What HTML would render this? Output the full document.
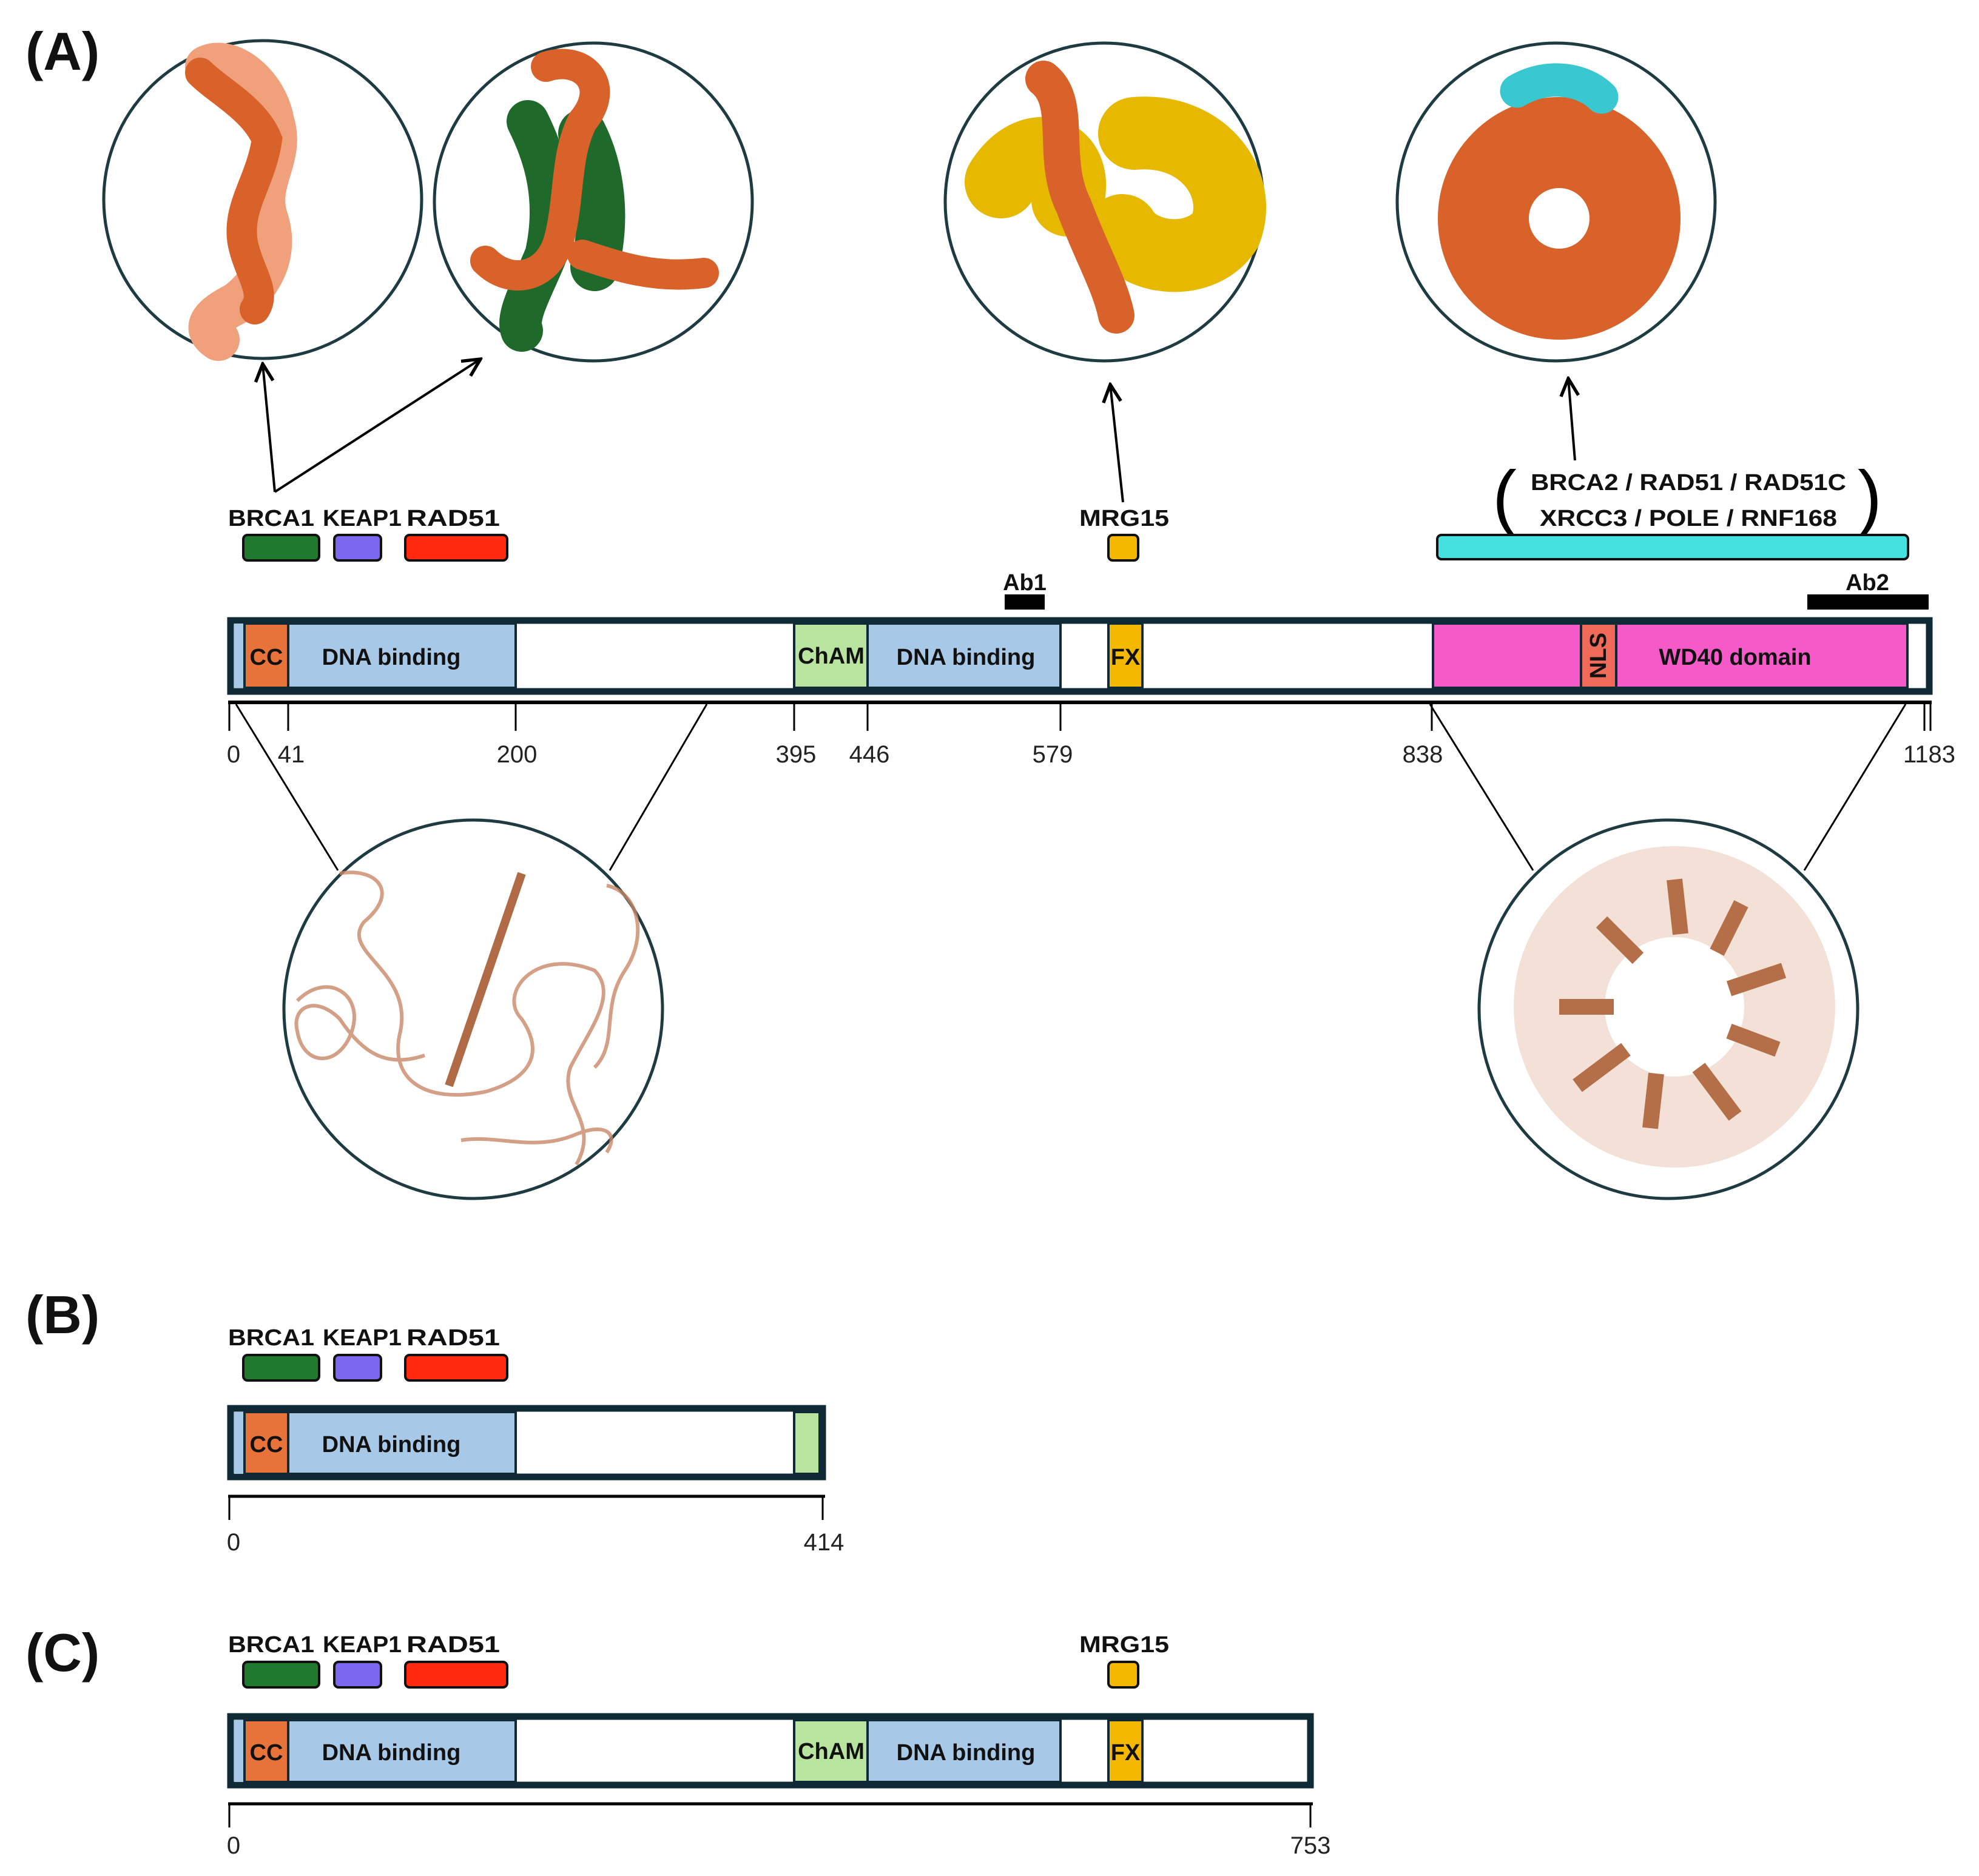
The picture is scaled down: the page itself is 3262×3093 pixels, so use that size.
<!DOCTYPE html>
<html><head><meta charset="utf-8"><style>
html,body{margin:0;padding:0;background:#fff}
svg{display:block}
text{font-family:"Liberation Sans",sans-serif}
.b{font-weight:bold;font-size:38px;fill:#111}
.n{font-size:40px;fill:#222}
.h{font-weight:bold;font-size:88px;fill:#111}
</style></head><body>
<svg width="3262" height="3093" viewBox="0 0 3262 3093" xmlns="http://www.w3.org/2000/svg">
<defs>
<marker id="ar" viewBox="0 0 20 20" refX="18" refY="10" markerWidth="9" markerHeight="9" orient="auto" markerUnits="strokeWidth"><path d="M2,2 L18,10 L2,18" fill="none" stroke="#000" stroke-width="3"/></marker>
</defs>
<text class="h" x="42" y="115">(A)</text>
<text class="h" x="42" y="2198">(B)</text>
<text class="h" x="42" y="2755">(C)</text>

<g stroke="#1d3b40" stroke-width="5" fill="#fff">
<circle cx="433" cy="329" r="262"/><circle cx="978" cy="333" r="262"/>
<circle cx="1820" cy="333" r="262"/><circle cx="2565" cy="333" r="262"/>
<circle cx="780" cy="1664" r="312"/><circle cx="2750" cy="1664" r="312"/>
</g>
<!-- circle1 -->
<path d="M340,110 C380,90 440,140 450,200 C470,260 420,300 440,360 C460,420 430,470 390,500 C350,520 330,540 360,560" stroke="#f0a07a" stroke-width="70" fill="none" stroke-linecap="round"/>
<path d="M330,120 C360,150 420,180 440,230 C430,300 390,340 400,400 C410,450 440,480 420,510" stroke="#d8622a" stroke-width="50" fill="none" stroke-linecap="round"/>
<!-- circle2 -->
<path d="M870,200 C900,260 920,330 900,420 C880,470 850,520 860,545" stroke="#1f6a2a" stroke-width="70" fill="none" stroke-linecap="round"/>
<path d="M960,220 C990,280 1000,360 980,440" stroke="#1f6a2a" stroke-width="80" fill="none" stroke-linecap="round"/>
<path d="M900,110 C960,90 1010,140 960,200 C930,260 940,330 920,400 C900,460 840,470 800,430 M960,420 C1020,440 1080,460 1160,450" stroke="#d8622a" stroke-width="50" fill="none" stroke-linecap="round"/>
<!-- circle3 -->
<path d="M1650,300 C1700,220 1780,250 1760,330 M1870,220 C1980,210 2050,300 2020,380 C1980,440 1880,430 1850,380" stroke="#e6b800" stroke-width="120" fill="none" stroke-linecap="round"/>
<path d="M1720,130 C1770,170 1730,260 1770,340 C1800,420 1830,470 1840,520" stroke="#d8622a" stroke-width="60" fill="none" stroke-linecap="round"/>
<!-- circle4 -->
<circle cx="2570" cy="360" r="125" fill="none" stroke="#d8622a" stroke-width="150"/>
<circle cx="2570" cy="360" r="40" fill="#fff"/>
<path d="M2500,150 C2550,120 2610,130 2640,160" stroke="#3ac8d0" stroke-width="55" fill="none" stroke-linecap="round"/>
<!-- bottom left -->
<g fill="none" stroke="#c98868" stroke-width="6" opacity="0.8">
<path d="M560,1440 C620,1430 660,1470 600,1520 C560,1570 680,1600 660,1700 C640,1780 700,1820 800,1800 C870,1780 900,1740 860,1680 C820,1640 880,1560 980,1600 C1020,1640 970,1700 940,1760 C920,1820 990,1850 950,1920"/>
<path d="M490,1650 C540,1600 600,1640 580,1700 C560,1760 500,1760 490,1700 C480,1660 520,1640 560,1680 C600,1740 640,1760 700,1740"/>
<path d="M760,1880 C820,1870 880,1900 950,1870 C1000,1850 1020,1870 1000,1900"/>
<path d="M1000,1460 C1050,1470 1070,1540 1030,1600 C990,1660 1020,1720 980,1760"/>
</g>
<line x1="740" y1="1790" x2="860" y2="1440" stroke="#b06a45" stroke-width="14"/>
<!-- bottom right -->
<g fill="none" stroke="#a8562a" stroke-width="26" opacity="0.85">
<circle cx="2760" cy="1660" r="190" stroke="#e8c4b0" stroke-width="150" opacity="0.6"/>
<path d="M2640,1520 L2700,1580 M2760,1450 L2770,1540 M2870,1490 L2830,1570 M2940,1600 L2850,1630 M2930,1730 L2850,1700 M2860,1840 L2800,1760 M2720,1860 L2730,1770 M2600,1790 L2680,1730 M2570,1660 L2660,1660"/>
</g>

<g stroke="#000" stroke-width="4" fill="none" marker-end="url(#ar)">
<line x1="453" y1="811" x2="433" y2="600"/>
<line x1="453" y1="811" x2="792" y2="592"/>
<line x1="1851" y1="828" x2="1830" y2="634"/>
<line x1="2596" y1="759" x2="2585" y2="624"/>
</g>

<text class="b" x="376" y="867" textLength="142" lengthAdjust="spacingAndGlyphs">BRCA1</text>
<text class="b" x="532" y="867" textLength="130" lengthAdjust="spacingAndGlyphs">KEAP1</text>
<text class="b" x="670" y="867" textLength="154" lengthAdjust="spacingAndGlyphs">RAD51</text>
<text class="b" x="1853" y="867" text-anchor="middle" textLength="148" lengthAdjust="spacingAndGlyphs">MRG15</text>
<text class="b" x="2783" y="808" text-anchor="middle" textLength="520" lengthAdjust="spacingAndGlyphs">BRCA2 / RAD51 / RAD51C</text>
<text class="b" x="2783" y="867" text-anchor="middle" textLength="490" lengthAdjust="spacingAndGlyphs">XRCC3 / POLE / RNF168</text>
<text class="b" x="1689" y="973" text-anchor="middle">Ab1</text>
<text class="b" x="3078" y="973" text-anchor="middle">Ab2</text>
<text x="2480" y="860" font-size="120" font-family="Liberation Sans" text-anchor="middle">(</text>
<text x="3082" y="860" font-size="120" font-family="Liberation Sans" text-anchor="middle">)</text>

<g stroke="#111" stroke-width="4">
<rect x="401" y="882" width="125" height="42" rx="7" fill="#1f7a2e"/>
<rect x="551" y="882" width="77" height="42" rx="7" fill="#7b68ee"/>
<rect x="668" y="882" width="168" height="42" rx="7" fill="#ff2a10"/>
<rect x="1827" y="882" width="49" height="42" rx="7" fill="#f5b800"/>
<rect x="2369" y="882" width="776" height="40" rx="7" fill="#45e0e0"/>
</g>
<rect x="1656" y="980" width="66" height="25" fill="#000"/>
<rect x="2979" y="980" width="200" height="25" fill="#000"/>

<rect x="380" y="1023" width="2800" height="117" fill="#fff" stroke="#0f2a35" stroke-width="11"/>
<g stroke="#0f2a35" stroke-width="4">
<rect x="386" y="1028" width="17" height="106" fill="#a8c8e8" stroke="none"/>
<rect x="403" y="1028" width="72" height="106" fill="#e8733a"/>
<rect x="475" y="1028" width="375" height="106" fill="#a8c8e8"/>
<rect x="1309" y="1028" width="121" height="106" fill="#b8e4a0"/>
<rect x="1430" y="1028" width="318" height="106" fill="#a8c8e8"/>
<rect x="1827" y="1028" width="56" height="106" fill="#f5b800"/>
<rect x="2362" y="1028" width="244" height="106" fill="#f55ac8"/>
<rect x="2606" y="1028" width="58" height="106" fill="#f06a5a"/>
<rect x="2664" y="1028" width="480" height="106" fill="#f55ac8"/>
</g>
<text class="b" x="439" y="1096" text-anchor="middle">CC</text>
<text class="b" x="645" y="1096" text-anchor="middle">DNA binding</text>
<text class="b" x="1370" y="1094" text-anchor="middle" font-size="36">ChAM</text>
<text class="b" x="1592" y="1096" text-anchor="middle">DNA binding</text>
<text class="b" x="1855" y="1096" text-anchor="middle" font-size="36">FX</text>
<text class="b" x="2860" y="1096" text-anchor="middle">WD40 domain</text>
<text class="b" font-size="32" text-anchor="middle" transform="translate(2647 1081) rotate(-90)">NLS</text>

<line x1="376" y1="1158" x2="3184" y2="1158" stroke="#000" stroke-width="6"/>
<g stroke="#000" stroke-width="3">
<line x1="378" y1="1158" x2="378" y2="1205"/><line x1="475" y1="1158" x2="475" y2="1205"/>
<line x1="850" y1="1158" x2="850" y2="1205"/><line x1="1309" y1="1158" x2="1309" y2="1205"/>
<line x1="1430" y1="1158" x2="1430" y2="1205"/><line x1="1748" y1="1158" x2="1748" y2="1205"/>
<line x1="2360" y1="1158" x2="2360" y2="1205"/><line x1="3172" y1="1158" x2="3172" y2="1205"/>
<line x1="3182" y1="1158" x2="3182" y2="1205"/>
<line x1="389" y1="1161" x2="557" y2="1435"/><line x1="1165" y1="1161" x2="1005" y2="1435"/>
<line x1="2357" y1="1161" x2="2527" y2="1435"/><line x1="3141" y1="1161" x2="2974" y2="1435"/>
</g>
<text class="n" x="385" y="1257" text-anchor="middle">0</text>
<text class="n" x="480" y="1257" text-anchor="middle">41</text>
<text class="n" x="852" y="1257" text-anchor="middle">200</text>
<text class="n" x="1312" y="1257" text-anchor="middle">395</text>
<text class="n" x="1433" y="1257" text-anchor="middle">446</text>
<text class="n" x="1735" y="1257" text-anchor="middle">579</text>
<text class="n" x="2345" y="1257" text-anchor="middle">838</text>
<text class="n" x="3180" y="1257" text-anchor="middle">1183</text>

<!-- Panel B -->
<text class="b" x="376" y="2218" textLength="142" lengthAdjust="spacingAndGlyphs">BRCA1</text>
<text class="b" x="532" y="2218" textLength="130" lengthAdjust="spacingAndGlyphs">KEAP1</text>
<text class="b" x="670" y="2218" textLength="154" lengthAdjust="spacingAndGlyphs">RAD51</text>
<g stroke="#111" stroke-width="4">
<rect x="401" y="2234" width="125" height="42" rx="7" fill="#1f7a2e"/>
<rect x="551" y="2234" width="77" height="42" rx="7" fill="#7b68ee"/>
<rect x="668" y="2234" width="168" height="42" rx="7" fill="#ff2a10"/>
</g>
<rect x="380" y="2322" width="976" height="113" fill="#fff" stroke="#0f2a35" stroke-width="11"/>
<g stroke="#0f2a35" stroke-width="4">
<rect x="386" y="2328" width="17" height="102" fill="#a8c8e8" stroke="none"/>
<rect x="403" y="2328" width="72" height="102" fill="#e8733a"/>
<rect x="475" y="2328" width="375" height="102" fill="#a8c8e8"/>
<rect x="1309" y="2328" width="42" height="102" fill="#b8e4a0"/>
</g>
<text class="b" x="439" y="2394" text-anchor="middle">CC</text>
<text class="b" x="645" y="2394" text-anchor="middle">DNA binding</text>
<line x1="376" y1="2467" x2="1360" y2="2467" stroke="#000" stroke-width="5"/>
<g stroke="#000" stroke-width="3"><line x1="378" y1="2467" x2="378" y2="2506"/><line x1="1356" y1="2467" x2="1356" y2="2506"/></g>
<text class="n" x="385" y="2556" text-anchor="middle">0</text>
<text class="n" x="1358" y="2556" text-anchor="middle">414</text>

<!-- Panel C -->
<text class="b" x="376" y="2724" textLength="142" lengthAdjust="spacingAndGlyphs">BRCA1</text>
<text class="b" x="532" y="2724" textLength="130" lengthAdjust="spacingAndGlyphs">KEAP1</text>
<text class="b" x="670" y="2724" textLength="154" lengthAdjust="spacingAndGlyphs">RAD51</text>
<text class="b" x="1853" y="2724" text-anchor="middle" textLength="148" lengthAdjust="spacingAndGlyphs">MRG15</text>
<g stroke="#111" stroke-width="4">
<rect x="401" y="2740" width="125" height="42" rx="7" fill="#1f7a2e"/>
<rect x="551" y="2740" width="77" height="42" rx="7" fill="#7b68ee"/>
<rect x="668" y="2740" width="168" height="42" rx="7" fill="#ff2a10"/>
<rect x="1827" y="2740" width="49" height="42" rx="7" fill="#f5b800"/>
</g>
<rect x="380" y="2830" width="1780" height="113" fill="#fff" stroke="#0f2a35" stroke-width="11"/>
<g stroke="#0f2a35" stroke-width="4">
<rect x="386" y="2836" width="17" height="102" fill="#a8c8e8" stroke="none"/>
<rect x="403" y="2836" width="72" height="102" fill="#e8733a"/>
<rect x="475" y="2836" width="375" height="102" fill="#a8c8e8"/>
<rect x="1309" y="2836" width="121" height="102" fill="#b8e4a0"/>
<rect x="1430" y="2836" width="318" height="102" fill="#a8c8e8"/>
<rect x="1827" y="2836" width="56" height="102" fill="#f5b800"/>
</g>
<text class="b" x="439" y="2902" text-anchor="middle">CC</text>
<text class="b" x="645" y="2902" text-anchor="middle">DNA binding</text>
<text class="b" x="1370" y="2900" text-anchor="middle" font-size="36">ChAM</text>
<text class="b" x="1592" y="2902" text-anchor="middle">DNA binding</text>
<text class="b" x="1855" y="2902" text-anchor="middle" font-size="36">FX</text>
<line x1="376" y1="2974" x2="2164" y2="2974" stroke="#000" stroke-width="5"/>
<g stroke="#000" stroke-width="3"><line x1="378" y1="2974" x2="378" y2="3013"/><line x1="2160" y1="2974" x2="2160" y2="3013"/></g>
<text class="n" x="385" y="3056" text-anchor="middle">0</text>
<text class="n" x="2160" y="3056" text-anchor="middle">753</text>
</svg>
</body></html>
